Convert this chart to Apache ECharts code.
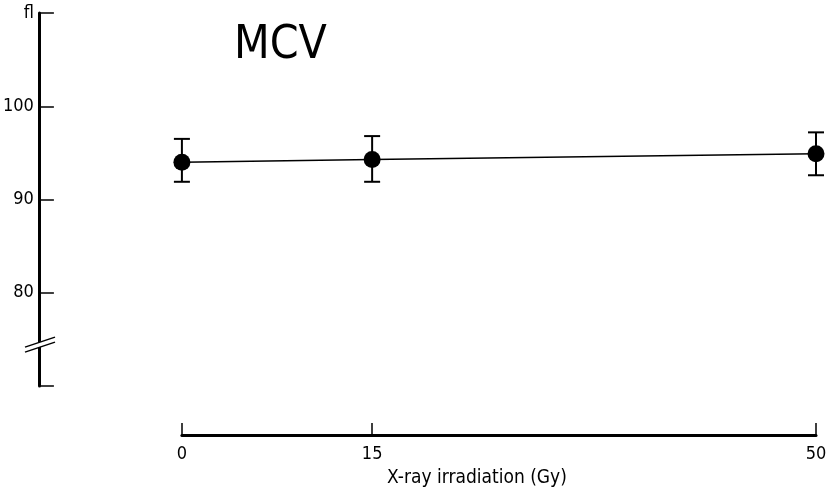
<!DOCTYPE html>
<html>
<head>
<meta charset="utf-8">
<script src="https://cdn.jsdelivr.net/npm/echarts@6/dist/echarts.min.js"></script>
<style>
  html, body { margin: 0; padding: 0; background: #fff; }
  #chart { width: 832px; height: 497px; }
</style>
</head>
<body>
<div id="chart"></div>
<script>
// X-ray dose (Gy) and mean corpuscular volume (fl)
const doses = [0, 15, 50];
const mcvMean = [94.0, 94.3, 94.9];
const mcvLow = [91.9, 91.9, 92.6];
const mcvHigh = [96.5, 96.8, 97.2];
const doseTicks = [0, 15, 50];
const yTicks = [70, 80, 90, 100, 110];
const yUnit = 'fl';
const breakValue = 74.6;

const FONT = "'Liberation Sans Narrow', 'DejaVu Sans Condensed', 'Liberation Sans', sans-serif";

const chart = echarts.init(document.getElementById('chart'), null, { renderer: 'canvas' });

const points = doses.map((d, i) => [d, mcvMean[i]]);
const bars = doses.map((d, i) => [d, mcvLow[i], mcvHigh[i]]);

chart.setOption({
  animation: false,
  backgroundColor: '#fff',
  title: {
    text: 'MCV',
    left: 229,
    top: 18,
    textStyle: { fontFamily: FONT, fontSize: 46, fontWeight: 'normal', color: '#000' }
  },
  grid: { left: 180, right: 16, top: 13, bottom: 111 },
  xAxis: {
    type: 'value',
    min: 0,
    max: 50,
    offset: 49,
    splitLine: { show: false },
    axisLine: { show: true, onZero: false, lineStyle: { color: '#000', width: 3 } },
    axisTick: { show: true, inside: true, length: 12, customValues: doseTicks, lineStyle: { color: '#000', width: 1.5 } },
    axisLabel: { customValues: doseTicks, color: '#000', fontFamily: FONT, fontSize: 18, margin: 10 },
    name: 'X-ray irradiation (Gy)',
    nameLocation: 'middle',
    nameGap: 34,
    nameTextStyle: { fontFamily: FONT, fontSize: 19, color: '#000', padding: [0, 44, 0, 0] }
  },
  yAxis: {
    type: 'value',
    min: yTicks[0],
    max: yTicks[yTicks.length - 1],
    interval: 10,
    offset: 143,
    splitLine: { show: false },
    axisLine: { show: true, onZero: false, lineStyle: { color: '#000', width: 3 } },
    axisTick: { show: true, inside: true, length: 15, lineStyle: { color: '#000', width: 1.5 } },
    axisLabel: {
      color: '#000', fontFamily: FONT, fontSize: 18, margin: 5,
      formatter: v => v === yTicks[yTicks.length - 1] ? yUnit : (v === yTicks[0] ? '' : String(v))
    }
  },
  series: [
    {
      type: 'custom',
      data: bars,
      z: 3,
      renderItem: (params, api) => {
        const x = api.coord([api.value(0), api.value(1)])[0];
        const yLo = api.coord([api.value(0), api.value(1)])[1];
        const yHi = api.coord([api.value(0), api.value(2)])[1];
        const cap = 8;
        const style = { stroke: '#000', lineWidth: 2 };
        return {
          type: 'group',
          children: [
            { type: 'line', shape: { x1: x, y1: yLo, x2: x, y2: yHi }, style },
            { type: 'line', shape: { x1: x - cap, y1: yLo, x2: x + cap, y2: yLo }, style },
            { type: 'line', shape: { x1: x - cap, y1: yHi, x2: x + cap, y2: yHi }, style }
          ]
        };
      }
    },
    {
      type: 'line',
      data: points,
      z: 4,
      symbol: 'circle',
      symbolSize: 17,
      itemStyle: { color: '#000' },
      lineStyle: { color: '#000', width: 1.5 }
    }
  ]
});

// axis break mark across the y axis line
const by = chart.convertToPixel({ yAxisIndex: 0 }, breakValue);
const ax = 180 - 143;
chart.setOption({
  graphic: [
    { type: 'polygon', shape: { points: [[ax - 12, by + 4], [ax + 18, by - 6], [ax + 18, by - 1], [ax - 12, by + 9]] }, style: { fill: '#fff' }, z: 100 },
    { type: 'line', shape: { x1: ax - 12, y1: by + 4, x2: ax + 18, y2: by - 6 }, style: { stroke: '#000', lineWidth: 1.5 }, z: 101 },
    { type: 'line', shape: { x1: ax - 12, y1: by + 9, x2: ax + 18, y2: by - 1 }, style: { stroke: '#000', lineWidth: 1.5 }, z: 101 }
  ]
});
</script>
</body>
</html>
